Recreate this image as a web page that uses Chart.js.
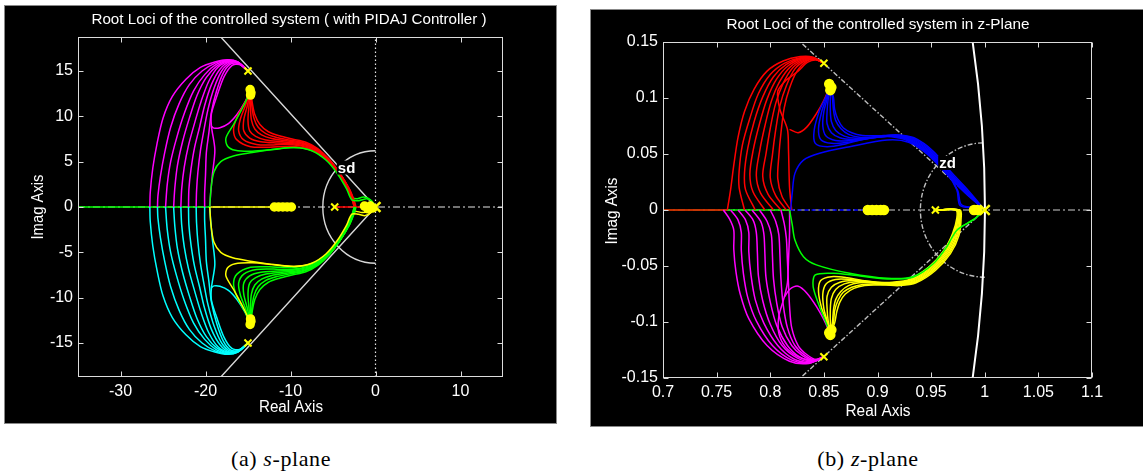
<!DOCTYPE html>
<html><head><meta charset="utf-8">
<script src="https://cdn.jsdelivr.net/npm/chart.js@4.4.0/dist/chart.umd.min.js"></script>
<style>
html,body{margin:0;padding:0;background:#fff;width:1143px;height:474px;overflow:hidden;}
canvas{position:absolute;background:#000;box-shadow:0 0 0 1px #888;}
#cs{left:5px;top:6px;}
#cz{left:591px;top:10px;}
.cap{position:absolute;top:446px;font-family:"Liberation Serif","Times New Roman",serif;font-size:22px;letter-spacing:0.6px;color:#000;white-space:nowrap;transform:translateX(-50%);}
#capA{left:281px;}
#capB{left:868px;}
</style></head><body>
<canvas id="cs" width="551" height="417"></canvas>
<canvas id="cz" width="552" height="416"></canvas>
<div class="cap" id="capA">(a) <i>s</i>-plane</div>
<div class="cap" id="capB">(b) <i>z</i>-plane</div>
<script>
// ===================== S-PLANE DATA =====================
const sXTicks = [-30,-20,-10,0,10];
const sXTickLabels = ['-30','-20','-10','0','10'];
const sYTicks = [-15,-10,-5,0,5,10,15];
const sYTickLabels = ['-15','-10','-5','0','5','10','15'];

const sPoles = [[-15,15],[-15,-15],[-4.8,0]];
const sPoleOrigin = [[0,0]];
const sZeros = [[-14.75,12.95],[-14.65,12.6],[-14.7,12.35],[-14.75,-12.95],[-14.65,-12.6],[-14.7,-12.35],
  [-11.9,0],[-11.4,0],[-10.9,0],[-10.4,0],[-9.9,0],[-1.3,0.1],[-0.9,-0.2],[-0.6,0.1],[-0.3,-0.1]];

const sMagenta = [
 [[-15,15],[-16.2,16.0],[-17.4,16.25],[-18.9,16.0],[-20.6,15.4],[-22.3,14.1],[-23.9,12.2],[-25.0,9.8],[-25.7,7.0],[-26.2,4.3],[-26.5,1.6],[-26.55,0]],
 [[-15,15],[-16.2,16.0],[-17.4,16.2],[-18.8,15.9],[-20.4,15.0],[-21.9,13.5],[-23.1,11.4],[-24.1,8.8],[-24.8,6.0],[-25.3,3.4],[-25.6,1.2],[-25.65,0]],
 [[-15,15],[-16.2,15.95],[-17.3,16.15],[-18.7,15.75],[-20.1,14.6],[-21.4,12.8],[-22.5,10.3],[-23.4,7.6],[-24.1,5.0],[-24.5,2.5],[-24.7,0]],
 [[-15,15],[-16.2,15.95],[-17.3,16.1],[-18.6,15.6],[-19.9,14.3],[-21.0,12.3],[-21.9,9.8],[-22.7,7.2],[-23.3,4.6],[-23.6,2.2],[-23.75,0]],
 [[-15,15],[-16.2,15.9],[-17.2,16.05],[-18.5,15.45],[-19.6,13.9],[-20.5,11.7],[-21.3,9.2],[-22.0,6.8],[-22.5,4.4],[-22.8,2.0],[-22.9,0]],
 [[-15,15],[-16.1,15.9],[-17.2,16.0],[-18.3,15.2],[-19.3,13.5],[-20.1,11.2],[-20.7,8.8],[-21.3,6.5],[-21.7,4.2],[-21.95,2.0],[-22.0,0]],
 [[-15,15],[-16.1,15.85],[-17.1,15.9],[-18.1,15.0],[-19.0,13.1],[-19.7,10.8],[-20.2,8.4],[-20.6,6.2],[-20.9,3.8],[-21.05,1.8],[-21.1,0]],
 [[-15,15],[-16.0,15.8],[-17.0,15.8],[-17.9,14.8],[-18.7,12.8],[-19.3,10.5],[-19.6,8.2],[-19.9,6.0],[-20.0,3.5],[-20.1,1.5],[-20.1,0]],
 [[-15,15],[-16.0,15.7],[-16.9,15.6],[-17.8,14.4],[-18.6,12.4],[-19.3,10.3],[-19.3,8.9],[-18.9,6.3],[-19.2,3.5],[-19.4,1.4],[-19.5,0]],
 [[-14.8,12.7],[-15.4,11.5],[-16.3,10.2],[-17.3,9.2],[-18.3,8.75],[-19.0,8.7],[-19.3,8.9]]
];
const sCyan = [
 [[-15,-15],[-16.2,-16.0],[-17.4,-16.25],[-18.9,-16.0],[-20.6,-15.4],[-22.3,-14.1],[-23.9,-12.2],[-25.0,-9.8],[-25.7,-7.0],[-26.2,-4.3],[-26.5,-1.6],[-26.55,0]],
 [[-15,-15],[-16.2,-16.0],[-17.4,-16.2],[-18.8,-15.9],[-20.4,-15.0],[-21.9,-13.5],[-23.1,-11.4],[-24.1,-8.8],[-24.8,-6.0],[-25.3,-3.4],[-25.6,-1.2],[-25.65,0]],
 [[-15,-15],[-16.2,-15.95],[-17.3,-16.15],[-18.7,-15.75],[-20.1,-14.6],[-21.4,-12.8],[-22.5,-10.3],[-23.4,-7.6],[-24.1,-5.0],[-24.5,-2.5],[-24.7,0]],
 [[-15,-15],[-16.2,-15.95],[-17.3,-16.1],[-18.6,-15.6],[-19.9,-14.3],[-21.0,-12.3],[-21.9,-9.8],[-22.7,-7.2],[-23.3,-4.6],[-23.6,-2.2],[-23.75,0]],
 [[-15,-15],[-16.2,-15.9],[-17.2,-16.05],[-18.5,-15.45],[-19.6,-13.9],[-20.5,-11.7],[-21.3,-9.2],[-22.0,-6.8],[-22.5,-4.4],[-22.8,-2.0],[-22.9,0]],
 [[-15,-15],[-16.1,-15.9],[-17.2,-16.0],[-18.3,-15.2],[-19.3,-13.5],[-20.1,-11.2],[-20.7,-8.8],[-21.3,-6.5],[-21.7,-4.2],[-21.95,-2.0],[-22.0,0]],
 [[-15,-15],[-16.1,-15.85],[-17.1,-15.9],[-18.1,-15.0],[-19.0,-13.1],[-19.7,-10.8],[-20.2,-8.4],[-20.6,-6.2],[-20.9,-3.8],[-21.05,-1.8],[-21.1,0]],
 [[-15,-15],[-16.0,-15.8],[-17.0,-15.8],[-17.9,-14.8],[-18.7,-12.8],[-19.3,-10.5],[-19.6,-8.2],[-19.9,-6.0],[-20.0,-3.5],[-20.1,-1.5],[-20.1,0]],
 [[-15,-15],[-16.0,-15.7],[-16.9,-15.6],[-17.8,-14.4],[-18.6,-12.4],[-19.3,-10.3],[-19.3,-8.9],[-18.9,-6.3],[-19.2,-3.5],[-19.4,-1.4],[-19.5,0]],
 [[-14.8,-12.7],[-15.4,-11.5],[-16.3,-10.2],[-17.3,-9.2],[-18.3,-8.75],[-19.0,-8.7],[-19.3,-8.9]]
];
const sRed = [
 [[-14.7,12.8],[-15.5,11.3],[-16.3,9.9],[-16.7,8.5],[-16.3,7.4],[-14.7,6.65],[-12.5,6.6],[-10,6.7],[-7.7,6.3],[-5.8,5.3],[-4.4,3.8],[-3.3,2.1],[-2.7,0.7],[-2.5,0]],
 [[-14.7,12.8],[-15.3,11.2],[-15.9,9.7],[-16.1,8.4],[-15.5,7.4],[-14.0,6.9],[-12,6.85],[-10,6.9],[-7.7,6.45],[-5.8,5.35],[-4.4,3.85],[-3.3,2.15],[-2.7,0.7],[-2.5,0]],
 [[-14.7,12.8],[-15.1,11.1],[-15.5,9.6],[-15.5,8.4],[-14.8,7.6],[-13.5,7.2],[-11.5,7.05],[-9.5,6.95],[-7.5,6.5],[-5.7,5.4],[-4.35,3.85],[-3.25,2.15],[-2.65,0.7],[-2.45,0]],
 [[-14.7,12.8],[-14.9,11.0],[-15.0,9.5],[-14.8,8.4],[-14.1,7.8],[-12.9,7.4],[-11,7.2],[-9,7.0],[-7.3,6.5],[-5.6,5.35],[-4.3,3.8],[-3.2,2.1],[-2.6,0.7],[-2.4,0]],
 [[-14.7,12.8],[-14.7,11.0],[-14.6,9.6],[-14.2,8.6],[-13.4,7.95],[-12.2,7.55],[-10.5,7.3],[-8.7,7.05],[-7.1,6.5],[-5.5,5.3],[-4.25,3.75],[-3.15,2.05],[-2.6,0.7],[-2.4,0]],
 [[-14.7,12.8],[-14.55,11.2],[-14.3,9.8],[-13.8,8.8],[-12.9,8.1],[-11.7,7.7],[-10.2,7.4],[-8.5,7.1],[-7.0,6.5],[-5.45,5.25],[-4.2,3.7],[-3.1,2.0],[-2.55,0.7],[-2.35,0]],
 [[-14.7,12.8],[-14.5,11.5],[-14.2,10.2],[-13.6,9.1],[-12.6,8.3],[-11.3,7.85],[-9.8,7.5],[-8.2,7.15],[-6.8,6.45],[-5.4,5.2],[-4.15,3.65],[-3.05,1.95],[-2.5,0.7],[-2.3,0]]
];
const sGreenLow = [
 [[-14.7,-12.8],[-15.5,-11.3],[-16.3,-9.9],[-16.7,-8.5],[-16.3,-7.4],[-14.7,-6.65],[-12.5,-6.6],[-10,-6.7],[-7.7,-6.3],[-5.8,-5.3],[-4.4,-3.8],[-3.3,-2.1],[-2.7,-0.7],[-2.5,0]],
 [[-14.7,-12.8],[-15.3,-11.2],[-15.9,-9.7],[-16.1,-8.4],[-15.5,-7.4],[-14.0,-6.9],[-12,-6.85],[-10,-6.9],[-7.7,-6.45],[-5.8,-5.35],[-4.4,-3.85],[-3.3,-2.15],[-2.7,-0.7],[-2.5,0]],
 [[-14.7,-12.8],[-15.1,-11.1],[-15.5,-9.6],[-15.5,-8.4],[-14.8,-7.6],[-13.5,-7.2],[-11.5,-7.05],[-9.5,-6.95],[-7.5,-6.5],[-5.7,-5.4],[-4.35,-3.85],[-3.25,-2.15],[-2.65,-0.7],[-2.45,0]],
 [[-14.7,-12.8],[-14.9,-11.0],[-15.0,-9.5],[-14.8,-8.4],[-14.1,-7.8],[-12.9,-7.4],[-11,-7.2],[-9,-7.0],[-7.3,-6.5],[-5.6,-5.35],[-4.3,-3.8],[-3.2,-2.1],[-2.6,-0.7],[-2.4,0]],
 [[-14.7,-12.8],[-14.7,-11.0],[-14.6,-9.6],[-14.2,-8.6],[-13.4,-7.95],[-12.2,-7.55],[-10.5,-7.3],[-8.7,-7.05],[-7.1,-6.5],[-5.5,-5.3],[-4.25,-3.75],[-3.15,-2.05],[-2.6,-0.7],[-2.4,0]],
 [[-14.7,-12.8],[-14.55,-11.2],[-14.3,-9.8],[-13.8,-8.8],[-12.9,-8.1],[-11.7,-7.7],[-10.2,-7.4],[-8.5,-7.1],[-7.0,-6.5],[-5.45,-5.25],[-4.2,-3.7],[-3.1,-2.0],[-2.55,-0.7],[-2.35,0]],
 [[-14.7,-12.8],[-14.5,-11.5],[-14.2,-10.2],[-13.6,-9.1],[-12.6,-8.3],[-11.3,-7.85],[-9.8,-7.5],[-8.2,-7.15],[-6.8,-6.45],[-5.4,-5.2],[-4.15,-3.65],[-3.05,-1.95],[-2.5,-0.7],[-2.3,0]]
];
const sGreenSingle = [[-14.7,12.8],[-15.6,11.0],[-16.7,9.1],[-17.6,7.6],[-17.4,6.7],[-16.5,6.25],[-14.5,6.15],[-12,6.35],[-9.5,6.55],[-7.5,6.2],[-5.8,5.15],[-4.5,3.7],[-3.4,2.0],[-2.8,0.8],[-2.0,0.7],[-1.0,0.9],[-0.4,0.6],[0,0]];
const sGreenBig = [[-19.5,0],[-19.35,2.0],[-19.0,3.9],[-18.2,5.0],[-16.8,5.6],[-14.5,6.0],[-12.4,6.3],[-10,6.55],[-8,6.4],[-6.3,5.75],[-4.8,4.5],[-3.6,2.8],[-2.9,1.2],[-2.3,0.9],[-1.4,1.1],[-0.6,0.8],[0,0]];
const sYellowSingle = [[-14.7,-12.8],[-15.6,-11.0],[-16.7,-9.1],[-17.6,-7.6],[-17.4,-6.7],[-16.5,-6.25],[-14.5,-6.15],[-12,-6.35],[-9.5,-6.55],[-7.5,-6.2],[-5.8,-5.15],[-4.5,-3.7],[-3.4,-2.0],[-2.8,-0.8],[-2.0,-0.8],[-1.2,-0.95],[-0.5,-0.6],[0,0]];
const sYellowBig = [[-19.5,0],[-19.35,-2.0],[-19.0,-3.9],[-18.2,-5.0],[-16.8,-5.6],[-14.5,-6.0],[-12.4,-6.3],[-10,-6.55],[-8,-6.4],[-6.3,-5.75],[-4.8,-4.5],[-3.6,-2.8],[-2.9,-1.2],[-2.4,-0.5],[-1.6,-0.6],[-0.8,-0.5],[0,0]];
const sGreenAxis = [[-35,0],[-19.5,0]];
const sYellowAxis = [[-19.5,0],[-12,0]];
const sRedAxis = [[-4.8,0],[-1.5,0]];

// ===================== Z-PLANE DATA =====================
const zXTicks = [0.7,0.75,0.8,0.85,0.9,0.95,1,1.05,1.1];
const zXTickLabels = ['0.7','0.75','0.8','0.85','0.9','0.95','1','1.05','1.1'];
const zYTicks = [-0.15,-0.1,-0.05,0,0.05,0.1,0.15];
const zYTickLabels = ['-0.15','-0.1','-0.05','0','0.05','0.1','0.15'];

const zPoles = [[0.850,0.131],[0.850,-0.131],[0.954,0]];
const zPoleOne = [[1.0,0]];
const zZeros = [[0.855,0.1125],[0.857,0.1095],[0.856,0.107],[0.855,-0.1095],[0.857,-0.107],[0.856,-0.1115],
  [0.891,0],[0.895,0],[0.899,0],[0.903,0],[0.906,0],[0.990,0],[0.993,0]];

const zRed = [
 [[0.850,0.131],[0.840,0.1365],[0.828,0.137],[0.812,0.133],[0.797,0.124],[0.785,0.108],[0.776,0.088],[0.770,0.065],[0.766,0.040],[0.763,0.018],[0.760,0]],
 [[0.850,0.131],[0.840,0.136],[0.828,0.136],[0.813,0.131],[0.800,0.121],[0.789,0.104],[0.781,0.082],[0.774,0.058],[0.771,0.035],[0.771,0.02],[0.776,0]],
 [[0.850,0.131],[0.840,0.136],[0.829,0.1355],[0.815,0.130],[0.803,0.119],[0.793,0.101],[0.785,0.079],[0.779,0.055],[0.776,0.033],[0.777,0.018],[0.786,0]],
 [[0.850,0.131],[0.840,0.1355],[0.830,0.135],[0.817,0.129],[0.806,0.117],[0.797,0.099],[0.790,0.077],[0.784,0.053],[0.781,0.032],[0.784,0.016],[0.795,0]],
 [[0.850,0.131],[0.841,0.1355],[0.831,0.1345],[0.819,0.128],[0.809,0.115],[0.801,0.097],[0.795,0.075],[0.790,0.052],[0.787,0.031],[0.791,0.015],[0.803,0]],
 [[0.850,0.131],[0.841,0.135],[0.832,0.134],[0.821,0.127],[0.812,0.113],[0.805,0.095],[0.800,0.073],[0.796,0.050],[0.793,0.030],[0.798,0.014],[0.810,0]],
 [[0.850,0.131],[0.842,0.135],[0.833,0.1335],[0.823,0.126],[0.815,0.111],[0.809,0.093],[0.805,0.071],[0.802,0.049],[0.800,0.029],[0.805,0.013],[0.815,0]],
 [[0.850,0.131],[0.842,0.1345],[0.834,0.133],[0.825,0.124],[0.818,0.109],[0.813,0.091],[0.810,0.069],[0.808,0.048],[0.807,0.028],[0.811,0.012],[0.819,0]],
 [[0.850,0.131],[0.843,0.134],[0.835,0.132],[0.826,0.124],[0.815,0.116],[0.807,0.106],[0.809,0.090],[0.816,0.072],[0.817,0.054],[0.818,0.020],[0.820,0]],
 [[0.856,0.111],[0.850,0.098],[0.843,0.086],[0.834,0.074],[0.826,0.069],[0.818,0.072]]
];
const zMagenta = [
 [[0.7563,0],[0.762,-0.008],[0.766,-0.018],[0.766,-0.035],[0.768,-0.055],[0.772,-0.075],[0.780,-0.097],[0.797,-0.121],[0.818,-0.135],[0.836,-0.137],[0.850,-0.131]],
 [[0.763,0],[0.770,-0.009],[0.773,-0.02],[0.773,-0.036],[0.775,-0.057],[0.779,-0.078],[0.787,-0.099],[0.802,-0.121],[0.820,-0.134],[0.837,-0.1365],[0.850,-0.131]],
 [[0.770,0],[0.777,-0.009],[0.780,-0.02],[0.780,-0.037],[0.782,-0.058],[0.786,-0.080],[0.794,-0.101],[0.807,-0.121],[0.822,-0.133],[0.838,-0.136],[0.850,-0.131]],
 [[0.7765,0],[0.784,-0.009],[0.787,-0.02],[0.788,-0.038],[0.789,-0.059],[0.793,-0.081],[0.800,-0.102],[0.811,-0.121],[0.825,-0.132],[0.839,-0.1355],[0.850,-0.131]],
 [[0.783,0],[0.791,-0.01],[0.794,-0.021],[0.795,-0.039],[0.796,-0.06],[0.800,-0.082],[0.806,-0.103],[0.816,-0.121],[0.827,-0.131],[0.840,-0.135],[0.850,-0.131]],
 [[0.790,0],[0.797,-0.01],[0.801,-0.022],[0.802,-0.04],[0.803,-0.061],[0.806,-0.083],[0.811,-0.104],[0.820,-0.121],[0.830,-0.130],[0.841,-0.1345],[0.850,-0.131]],
 [[0.800,0],[0.805,-0.01],[0.808,-0.022],[0.809,-0.04],[0.810,-0.062],[0.812,-0.084],[0.816,-0.105],[0.823,-0.121],[0.832,-0.1295],[0.842,-0.134],[0.850,-0.131]],
 [[0.810,0],[0.813,-0.012],[0.815,-0.025],[0.816,-0.045],[0.817,-0.066],[0.818,-0.086],[0.820,-0.105],[0.826,-0.121],[0.834,-0.129],[0.843,-0.1335],[0.850,-0.131]],
 [[0.818,0],[0.818,-0.02],[0.817,-0.045],[0.816,-0.065],[0.813,-0.078],[0.808,-0.095],[0.808,-0.110],[0.814,-0.122],[0.826,-0.131],[0.840,-0.134],[0.850,-0.131]],
 [[0.856,-0.1105],[0.850,-0.098],[0.843,-0.086],[0.834,-0.074],[0.826,-0.068],[0.818,-0.071],[0.813,-0.078]]
];
const zBlue = [
 [[0.856,0.111],[0.851,0.099],[0.846,0.089],[0.841,0.0715],[0.842,0.0595],[0.853,0.0565],[0.870,0.059],[0.884,0.0625],[0.899,0.065],[0.913,0.0655],[0.928,0.062],[0.946,0.0505],[0.9645,0.0327],[0.974,0.0179],[0.977,0.004],[0.990,0.002],[1.0,0]],
 [[0.856,0.111],[0.852,0.099],[0.848,0.088],[0.845,0.073],[0.847,0.063],[0.857,0.0595],[0.872,0.0605],[0.886,0.063],[0.900,0.065],[0.914,0.066],[0.929,0.0625],[0.947,0.051],[0.965,0.033],[0.975,0.017],[0.978,0.005],[0.990,0.002],[1.0,0]],
 [[0.856,0.111],[0.853,0.099],[0.850,0.088],[0.849,0.075],[0.852,0.066],[0.861,0.062],[0.874,0.062],[0.888,0.0635],[0.901,0.0652],[0.915,0.066],[0.930,0.0625],[0.948,0.0505],[0.966,0.032],[0.983,0.015],[1.0,0]],
 [[0.856,0.111],[0.854,0.099],[0.853,0.088],[0.853,0.077],[0.857,0.069],[0.865,0.0645],[0.877,0.063],[0.890,0.064],[0.902,0.0655],[0.916,0.0662],[0.931,0.063],[0.949,0.051],[0.966,0.033],[0.983,0.016],[1.0,0]],
 [[0.856,0.111],[0.856,0.1],[0.856,0.089],[0.857,0.079],[0.861,0.071],[0.869,0.066],[0.880,0.064],[0.892,0.0645],[0.903,0.0657],[0.917,0.0665],[0.932,0.0635],[0.950,0.0515],[0.967,0.0335],[0.984,0.016],[1.0,0]],
 [[0.856,0.111],[0.858,0.1],[0.859,0.089],[0.861,0.080],[0.866,0.0725],[0.873,0.0675],[0.883,0.065],[0.894,0.065],[0.904,0.066],[0.918,0.067],[0.933,0.064],[0.951,0.052],[0.967,0.034],[0.984,0.0165],[1.0,0]],
 [[0.856,0.111],[0.859,0.1],[0.860,0.09],[0.863,0.081],[0.868,0.0735],[0.876,0.069],[0.886,0.0665],[0.897,0.0662],[0.906,0.0665],[0.919,0.067],[0.934,0.0645],[0.952,0.0525],[0.968,0.0345],[0.985,0.017],[1.0,0]]
];
const zBlueBig = [[0.819,0],[0.8205,0.015],[0.823,0.0327],[0.831,0.0446],[0.846,0.0506],[0.874,0.0565],[0.909,0.0625],[0.929,0.0605],[0.947,0.0495],[0.9645,0.032],[0.982,0.015],[1.0,0]];
const zYellow = [
 [[0.856,-0.1105],[0.852,-0.098],[0.848,-0.088],[0.845,-0.073],[0.847,-0.063],[0.857,-0.0595],[0.872,-0.0605],[0.886,-0.063],[0.900,-0.0645],[0.914,-0.0645],[0.930,-0.062],[0.948,-0.051],[0.962,-0.036],[0.970,-0.021],[0.974,-0.007],[0.973,0],[0.954,0]],
 [[0.856,-0.1105],[0.853,-0.099],[0.850,-0.088],[0.849,-0.075],[0.852,-0.066],[0.861,-0.062],[0.874,-0.062],[0.888,-0.0635],[0.901,-0.0648],[0.915,-0.065],[0.931,-0.0625],[0.949,-0.0515],[0.963,-0.0365],[0.971,-0.021],[0.975,-0.007],[0.974,0],[0.954,0]],
 [[0.856,-0.1105],[0.854,-0.099],[0.853,-0.088],[0.853,-0.077],[0.857,-0.069],[0.865,-0.0645],[0.877,-0.063],[0.890,-0.064],[0.902,-0.065],[0.916,-0.0655],[0.932,-0.063],[0.950,-0.052],[0.964,-0.037],[0.972,-0.021],[0.975,-0.007],[0.974,0],[0.954,0]],
 [[0.856,-0.1105],[0.856,-0.1],[0.856,-0.089],[0.857,-0.079],[0.861,-0.071],[0.869,-0.066],[0.880,-0.064],[0.892,-0.0645],[0.903,-0.0655],[0.917,-0.066],[0.933,-0.0635],[0.951,-0.0525],[0.965,-0.0375],[0.973,-0.0215],[0.976,-0.007],[0.975,0],[0.954,0]],
 [[0.856,-0.1105],[0.858,-0.1],[0.859,-0.089],[0.861,-0.080],[0.866,-0.0725],[0.873,-0.0675],[0.883,-0.065],[0.894,-0.065],[0.904,-0.066],[0.918,-0.0665],[0.934,-0.064],[0.952,-0.053],[0.966,-0.038],[0.974,-0.022],[0.977,-0.007],[0.976,0],[0.954,0]],
 [[0.856,-0.1105],[0.859,-0.1],[0.860,-0.09],[0.863,-0.081],[0.868,-0.0735],[0.876,-0.069],[0.886,-0.0665],[0.897,-0.066],[0.906,-0.0665],[0.919,-0.067],[0.935,-0.0645],[0.953,-0.0535],[0.967,-0.0385],[0.975,-0.022],[0.977,-0.007],[0.976,0],[0.954,0]],
 [[0.856,-0.1105],[0.860,-0.101],[0.862,-0.091],[0.865,-0.082],[0.870,-0.075],[0.878,-0.070],[0.888,-0.0675],[0.899,-0.067],[0.908,-0.067],[0.920,-0.0675],[0.936,-0.065],[0.954,-0.054],[0.968,-0.039],[0.976,-0.0225],[0.978,-0.007],[0.977,0],[0.954,0]]
];
const zGreenBig = [[0.818,0],[0.8205,-0.013],[0.823,-0.0268],[0.831,-0.0417],[0.843,-0.049],[0.874,-0.0565],[0.909,-0.061],[0.933,-0.0595],[0.952,-0.0476],[0.9645,-0.0327],[0.974,-0.0179],[0.989,-0.0089],[1.0,0]];
const zGreenSingle = [[0.856,-0.1105],[0.851,-0.098],[0.846,-0.0863],[0.840,-0.0685],[0.842,-0.058],[0.859,-0.0565],[0.876,-0.058],[0.909,-0.0615],[0.933,-0.060],[0.952,-0.048],[0.9645,-0.033],[0.974,-0.018],[0.989,-0.0089],[1.0,0]];
const zGreenAxis = [[0.7,0],[0.819,0]];
const zRedAxis = [[0.7,0],[0.760,0]];
const zBlueAxis = [[0.819,0],[0.89,0]];

// ===================== STYLE / BUILD =====================
const RED='#ff0000', GREEN='#00ff00', BLUE='#0000ff', YELLOW='#ffff00', MAGENTA='#ff00ff', CYAN='#00ffff';
const AXIS='#dcdcdc';
const FONT='"Liberation Sans", Arial, Helvetica, sans-serif';

function line(pts,color,w,dash){
  return {data:pts.map(p=>({x:p[0],y:p[1]})),showLine:true,borderColor:color,borderWidth:w||1.5,
    pointRadius:0,pointHoverRadius:0,tension:0.3,borderDash:dash||[],fill:false};
}
function marks(pts,style,r,bw,fill){
  return {data:pts.map(p=>({x:p[0],y:p[1]})),showLine:false,pointStyle:style,pointRadius:r,
    pointBorderWidth:bw,pointBorderColor:YELLOW,pointBackgroundColor:fill?YELLOW:'rgba(0,0,0,0)'};
}
function ordered(list){ list.forEach((d,i)=>{d.order=-i;}); return list; }

function fitText(ctx,text,cx,cy,targetW,font,rot){
  ctx.save(); ctx.font=font; ctx.fillStyle='#fff';
  const w=ctx.measureText(text).width;
  ctx.translate(cx,cy); if(rot) ctx.rotate(-Math.PI/2);
  ctx.scale(targetW/w,1); ctx.textAlign='center'; ctx.textBaseline='middle';
  ctx.fillText(text,0,0); ctx.restore();
}

function makeFrame(cfg){
  return {
    id:'frame',
    beforeDatasetsDraw(chart){
      const {ctx,chartArea:a,scales:{x,y}}=chart;
      ctx.save(); ctx.beginPath(); ctx.rect(a.left,a.top,a.right-a.left,a.bottom-a.top); ctx.clip();
      cfg.guides(ctx,x,y);
      ctx.restore();
    },
    afterDatasetsDraw(chart){
      const {ctx,chartArea:a,scales:{x,y}}=chart;
      ctx.save();
      ctx.font='bold 15px '+FONT;
      const lp=[x.getPixelForValue(cfg.tag.at[0]),y.getPixelForValue(cfg.tag.at[1])];
      const tw=ctx.measureText(cfg.tag.text).width;
      ctx.fillStyle='#000'; ctx.fillRect(lp[0]-tw/2-1,lp[1]-7,tw+2,14);
      ctx.fillStyle='#fff'; ctx.textAlign='center'; ctx.textBaseline='middle';
      ctx.fillText(cfg.tag.text,lp[0],lp[1]+1);
      ctx.restore();
      ctx.save(); ctx.strokeStyle=AXIS; ctx.lineWidth=1;
      const L=Math.round(a.left)+0.5,R=Math.round(a.right)-0.5,T=Math.round(a.top)+0.5,B=Math.round(a.bottom)-0.5;
      ctx.strokeRect(L,T,R-L,B-T);
      ctx.beginPath();
      cfg.xt.forEach(v=>{const p=Math.round(x.getPixelForValue(v))+0.5; ctx.moveTo(p,T); ctx.lineTo(p,T+5); ctx.moveTo(p,B); ctx.lineTo(p,B-5);});
      cfg.yt.forEach(v=>{const p=Math.round(y.getPixelForValue(v))+0.5; ctx.moveTo(L,p); ctx.lineTo(L+5,p); ctx.moveTo(R,p); ctx.lineTo(R-5,p);});
      ctx.stroke(); ctx.restore();
      fitText(ctx,cfg.title,cfg.titlePos[0],cfg.titlePos[1],cfg.titlePos[2],'15px '+FONT,false);
      fitText(ctx,'Real Axis',cfg.xlab[0],cfg.xlab[1],cfg.xlab[2],'16px '+FONT,false);
      fitText(ctx,'Imag Axis',cfg.ylab[0],cfg.ylab[1],cfg.ylab[2],'16px '+FONT,true);
    }
  };
}

function scales(xr,yr,xt,xl,yt,yl,yw,xh){
  const tk=(vals,labs)=>({color:'#fff',font:{family:FONT,size:16},padding:5,autoSkip:false,maxRotation:0,
      callback:(v,i)=>labs[i]});
  return {
    x:{type:'linear',min:xr[0],max:xr[1],grid:{display:false,drawTicks:false},border:{display:false},
       ticks:tk(xt,xl),afterBuildTicks:s=>{s.ticks=xt.map(v=>({value:v}));},afterFit:s=>{s.height=xh;}},
    y:{type:'linear',min:yr[0],max:yr[1],grid:{display:false,drawTicks:false},border:{display:false},
       ticks:tk(yt,yl),afterBuildTicks:s=>{s.ticks=yt.map(v=>({value:v}));},afterFit:s=>{s.width=yw;}}
  };
}

// ---------- s-plane chart ----------
const sGuideZeta = [-18.2,18.75];
const sGuideRadius = 6.2;
const sDatasets = ordered([
  line(sGreenAxis,GREEN),
  line(sYellowAxis,YELLOW),
  line(sRedAxis,RED),
  ...sMagenta.map(c=>line(c,MAGENTA)),
  ...sCyan.map(c=>line(c,CYAN)),
  line(sYellowBig,YELLOW),
  line(sGreenBig,GREEN),
  ...sRed.map(c=>line(c,RED)),
  line(sGreenSingle,GREEN),
  ...sGreenLow.map(c=>line(c,GREEN)),
  line(sYellowSingle,YELLOW),
  marks(sZeros,'circle',4,1.5,true),
  marks(sPoles,'crossRot',5,2,false),
  marks(sPoleOrigin,'crossRot',7,2.5,false)
]);
new Chart(document.getElementById('cs'),{
  type:'scatter',
  data:{datasets:sDatasets},
  options:{responsive:false,animation:false,devicePixelRatio:1,events:[],
    layout:{padding:{left:0,top:31,right:53,bottom:0}},
    plugins:{legend:{display:false},tooltip:{enabled:false},title:{display:false}},
    scales:scales([-35,15],[-18.75,18.75],sXTicks,sXTickLabels,sYTicks,sYTickLabels,73,46)
  },
  plugins:[makeFrame({
    xt:sXTicks,yt:sYTicks,
    title:'Root Loci of the controlled system ( with PIDAJ Controller )',titlePos:[284,13.5,395],
    xlab:[286,402,64],ylab:[34,201,65],
    tag:{text:'sd',at:[-3.4,4.35]},
    guides:(ctx,x,y)=>{
      const X=v=>x.getPixelForValue(v),Y=v=>y.getPixelForValue(v);
      ctx.strokeStyle='#e6e6e6'; ctx.lineWidth=1.2;
      ctx.setLineDash([7,3,2,3]);
      ctx.beginPath(); ctx.moveTo(X(-35),Y(0)); ctx.lineTo(X(15),Y(0)); ctx.stroke();
      ctx.setLineDash([1.5,2.5]);
      ctx.beginPath(); ctx.moveTo(X(0),Y(-18.75)); ctx.lineTo(X(0),Y(18.75)); ctx.stroke();
      ctx.setLineDash([]); ctx.lineWidth=1.4; ctx.strokeStyle='#d8d8d8';
      ctx.beginPath(); ctx.moveTo(X(0),Y(0)); ctx.lineTo(X(sGuideZeta[0]),Y(sGuideZeta[1]));
      ctx.moveTo(X(0),Y(0)); ctx.lineTo(X(sGuideZeta[0]),Y(-sGuideZeta[1])); ctx.stroke();
      const rx=X(sGuideRadius)-X(0), ry=Y(0)-Y(sGuideRadius);
      ctx.beginPath(); ctx.ellipse(X(0),Y(0),rx,ry,0,Math.PI/2,Math.PI*1.5); ctx.stroke();
    }
  })]
});

// ---------- z-plane chart ----------
const zGuideZeta = [0.828,0.15];
const zGuideRadius = 0.06;
const zDatasets = ordered([
  line(zGreenAxis,GREEN),
  line(zRedAxis,RED),
  line(zBlueAxis,BLUE,1.5,[4,3]),
  ...zRed.map(c=>line(c,RED)),
  ...zMagenta.map(c=>line(c,MAGENTA)),
  line(zGreenBig,GREEN),
  line(zBlueBig,BLUE),
  ...zBlue.map(c=>line(c,BLUE)),
  ...zYellow.map(c=>line(c,YELLOW)),
  line(zGreenSingle,GREEN),
  marks(zZeros,'circle',4.5,1.5,true),
  marks(zPoles,'crossRot',5,2,false),
  marks(zPoleOne,'crossRot',7,2.5,false)
]);
new Chart(document.getElementById('cz'),{
  type:'scatter',
  data:{datasets:zDatasets},
  options:{responsive:false,animation:false,devicePixelRatio:1,events:[],
    layout:{padding:{left:0,top:32,right:51,bottom:0}},
    plugins:{legend:{display:false},tooltip:{enabled:false},title:{display:false}},
    scales:scales([0.7,1.1],[-0.15,0.15],zXTicks,zXTickLabels,zYTicks,zYTickLabels,72,48)
  },
  plugins:[makeFrame({
    xt:zXTicks,yt:zYTicks,
    title:'Root Loci of the controlled system in z-Plane',titlePos:[287,14.5,303],
    xlab:[287,402,65],ylab:[22,201,67],
    tag:{text:'zd',at:[0.9653,0.042]},
    guides:(ctx,x,y)=>{
      const X=v=>x.getPixelForValue(v),Y=v=>y.getPixelForValue(v);
      ctx.strokeStyle='#d0d0d0'; ctx.lineWidth=1.2;
      ctx.setLineDash([7,3,2,3]);
      ctx.beginPath(); ctx.moveTo(X(0.7),Y(0)); ctx.lineTo(X(1.1),Y(0)); ctx.stroke();
      ctx.strokeStyle='#bdbdbd'; ctx.lineWidth=1.4; ctx.setLineDash([5,2,1.5,2]);
      ctx.beginPath(); ctx.moveTo(X(1),Y(0)); ctx.lineTo(X(zGuideZeta[0]),Y(zGuideZeta[1]));
      ctx.moveTo(X(1),Y(0)); ctx.lineTo(X(zGuideZeta[0]),Y(-zGuideZeta[1])); ctx.stroke();
      const rx=X(1+zGuideRadius)-X(1), ry=Y(0)-Y(zGuideRadius);
      ctx.beginPath(); ctx.ellipse(X(1),Y(0),rx,ry,0,Math.PI/2,Math.PI*1.5); ctx.stroke();
      ctx.setLineDash([]); ctx.strokeStyle='#ffffff'; ctx.lineWidth=2;
      const ux=X(1)-X(0), uy=Y(0)-Y(1);
      ctx.beginPath(); ctx.ellipse(X(0),Y(0),ux,uy,0,-0.2,0.2); ctx.stroke();
    }
  })]
});
</script>
</body></html>
